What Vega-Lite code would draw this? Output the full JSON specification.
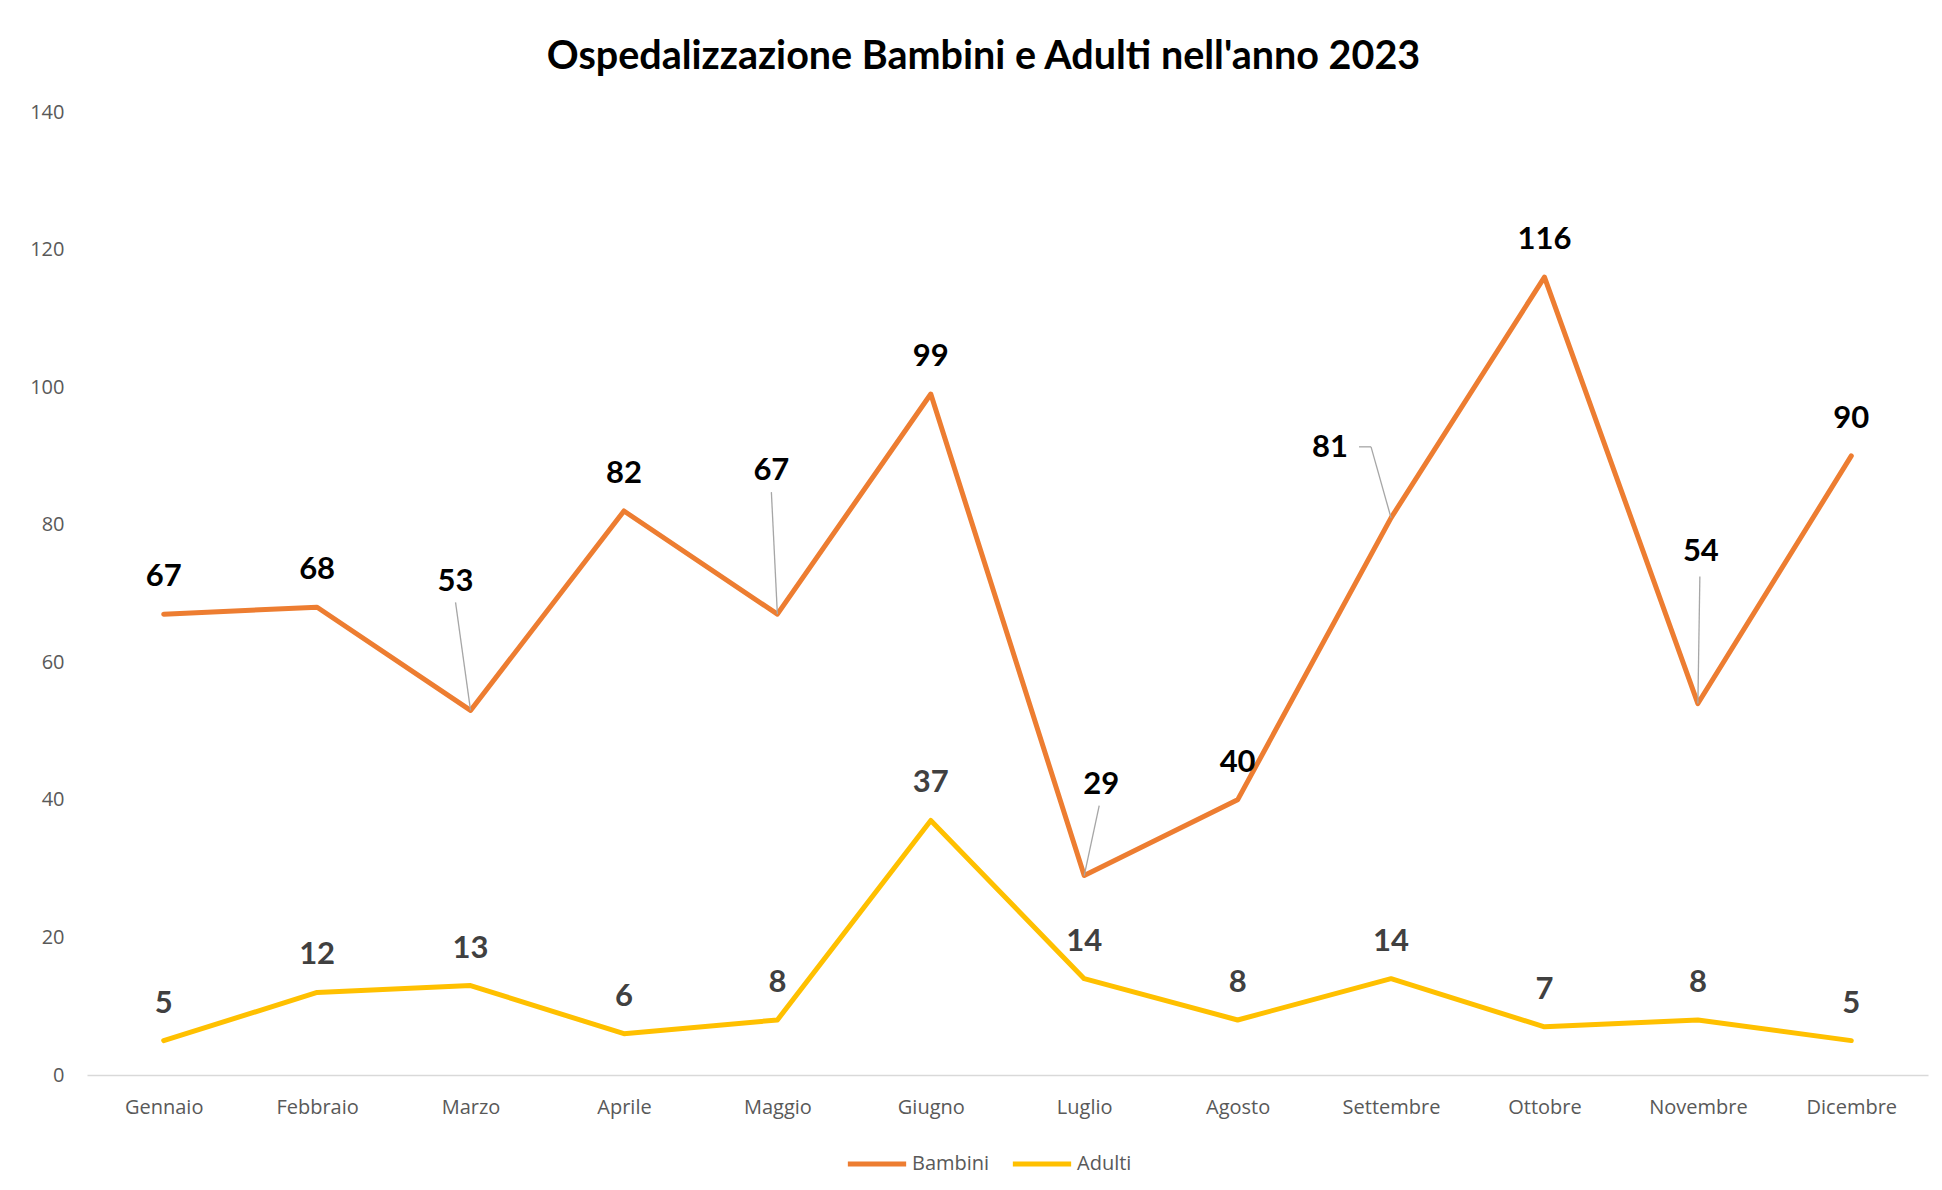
{
  "$schema": "https://vega.github.io/schema/vega-lite/v6.json",
  "autosize": {"type": "none"},
  "padding": {"left": 87, "top": 112, "right": 14, "bottom": 115},
  "width": 1841,
  "height": 963,
  "background": "white",
  "title": {
    "text": "Ospedalizzazione Bambini e Adulti nell'anno 2023",
    "font": "Lato",
    "fontSize": 39.5,
    "fontWeight": "bold",
    "color": "#000000",
    "anchor": "middle",
    "frame": "group",
    "dx": -24,
    "offset": 25
  },
  "config": {
    "view": {"stroke": null},
    "font": "Lato",
    "text": {"font": "Lato"}
  },
  "data": {
    "values": [
      {"month": "Gennaio", "serie": "Bambini", "value": 67},
      {"month": "Febbraio", "serie": "Bambini", "value": 68},
      {"month": "Marzo", "serie": "Bambini", "value": 53},
      {"month": "Aprile", "serie": "Bambini", "value": 82},
      {"month": "Maggio", "serie": "Bambini", "value": 67},
      {"month": "Giugno", "serie": "Bambini", "value": 99},
      {"month": "Luglio", "serie": "Bambini", "value": 29},
      {"month": "Agosto", "serie": "Bambini", "value": 40},
      {"month": "Settembre", "serie": "Bambini", "value": 81},
      {"month": "Ottobre", "serie": "Bambini", "value": 116},
      {"month": "Novembre", "serie": "Bambini", "value": 54},
      {"month": "Dicembre", "serie": "Bambini", "value": 90},
      {"month": "Gennaio", "serie": "Adulti", "value": 5},
      {"month": "Febbraio", "serie": "Adulti", "value": 12},
      {"month": "Marzo", "serie": "Adulti", "value": 13},
      {"month": "Aprile", "serie": "Adulti", "value": 6},
      {"month": "Maggio", "serie": "Adulti", "value": 8},
      {"month": "Giugno", "serie": "Adulti", "value": 37},
      {"month": "Luglio", "serie": "Adulti", "value": 14},
      {"month": "Agosto", "serie": "Adulti", "value": 8},
      {"month": "Settembre", "serie": "Adulti", "value": 14},
      {"month": "Ottobre", "serie": "Adulti", "value": 7},
      {"month": "Novembre", "serie": "Adulti", "value": 8},
      {"month": "Dicembre", "serie": "Adulti", "value": 5}
    ]
  },
  "encoding": {
    "x": {
      "field": "month",
      "type": "nominal",
      "sort": null,
      "scale": {"type": "point", "padding": 0.5},
      "axis": {
        "title": null,
        "labelAngle": 0,
        "labelFont": "Open Sans",
        "labelFontSize": 20,
        "labelColor": "#595959",
        "labelPadding": 22,
        "ticks": false,
        "tickSize": 0,
        "grid": false,
        "domainColor": "#D9D9D9",
        "domainWidth": 1.5
      }
    },
    "y": {
      "field": "value",
      "type": "quantitative",
      "scale": {"domain": [0, 140], "nice": false},
      "axis": {
        "title": null,
        "values": [0, 20, 40, 60, 80, 100, 120, 140],
        "labelFont": "Open Sans",
        "labelFontSize": 20,
        "labelColor": "#595959",
        "labelPadding": 23,
        "ticks": false,
        "tickSize": 0,
        "grid": false,
        "domain": false
      }
    }
  },
  "layer": [
    {
      "mark": {"type": "line", "strokeWidth": 5, "strokeCap": "round", "strokeJoin": "round"},
      "encoding": {
        "color": {
          "field": "serie",
          "type": "nominal",
          "sort": ["Bambini", "Adulti"],
          "scale": {"domain": ["Bambini", "Adulti"], "range": ["#ED7D31", "#FFC000"]},
          "legend": {
            "title": null,
            "orient": "none",
            "direction": "horizontal",
            "legendX": 758,
            "legendY": 1020,
            "symbolType": "stroke",
            "symbolSize": 3400,
            "symbolStrokeWidth": 5,
            "labelFont": "Open Sans",
            "labelFontSize": 20,
            "labelColor": "#595959",
            "labelOffset": 3,
            "columnPadding": 12
          }
        }
      }
    },
    {
      "transform": [{"filter": "datum.serie === 'Adulti'"}],
      "mark": {"type": "text", "dy": -37, "baseline": "middle", "fontSize": 31, "fontWeight": "bold", "color": "#404040", "font": "Lato"},
      "encoding": {"text": {"field": "value", "type": "quantitative"}}
    },
    {
      "transform": [{"filter": "datum.serie === 'Bambini' && indexof(['Marzo','Maggio','Luglio','Settembre','Novembre'], datum.month) < 0"}],
      "mark": {"type": "text", "dy": -37, "baseline": "middle", "fontSize": 31, "fontWeight": "bold", "color": "#000000", "font": "Lato"},
      "encoding": {"text": {"field": "value", "type": "quantitative"}}
    },
    {
      "transform": [{"filter": "datum.serie === 'Bambini' && datum.month === 'Marzo'"}],
      "layer": [
        {"mark": {"type": "text", "dx": -15, "dy": -128, "baseline": "middle", "fontSize": 31, "fontWeight": "bold", "color": "#000000", "font": "Lato"},
         "encoding": {"text": {"field": "value", "type": "quantitative"}}},
        {"mark": {"type": "rule", "color": "#A6A6A6", "strokeWidth": 1.3, "x2Offset": -15, "y2Offset": -108},
         "encoding": {"x2": {"field": "month"}, "y2": {"field": "value"}}}
      ]
    },
    {
      "transform": [{"filter": "datum.serie === 'Bambini' && datum.month === 'Maggio'"}],
      "layer": [
        {"mark": {"type": "text", "dx": -6, "dy": -143, "baseline": "middle", "fontSize": 31, "fontWeight": "bold", "color": "#000000", "font": "Lato"},
         "encoding": {"text": {"field": "value", "type": "quantitative"}}},
        {"mark": {"type": "rule", "color": "#A6A6A6", "strokeWidth": 1.3, "x2Offset": -6, "y2Offset": -122},
         "encoding": {"x2": {"field": "month"}, "y2": {"field": "value"}}}
      ]
    },
    {
      "transform": [{"filter": "datum.serie === 'Bambini' && datum.month === 'Luglio'"}],
      "layer": [
        {"mark": {"type": "text", "dx": 17, "dy": -91, "baseline": "middle", "fontSize": 31, "fontWeight": "bold", "color": "#000000", "font": "Lato"},
         "encoding": {"text": {"field": "value", "type": "quantitative"}}},
        {"mark": {"type": "rule", "color": "#A6A6A6", "strokeWidth": 1.3, "x2Offset": 15, "y2Offset": -70},
         "encoding": {"x2": {"field": "month"}, "y2": {"field": "value"}}}
      ]
    },
    {
      "transform": [{"filter": "datum.serie === 'Bambini' && datum.month === 'Settembre'"}],
      "layer": [
        {"mark": {"type": "text", "dx": -61, "dy": -70, "baseline": "middle", "fontSize": 31, "fontWeight": "bold", "color": "#000000", "font": "Lato"},
         "encoding": {"text": {"field": "value", "type": "quantitative"}}},
        {"mark": {"type": "rule", "color": "#A6A6A6", "strokeWidth": 1.3, "x2Offset": -20, "y2Offset": -71},
         "encoding": {"x2": {"field": "month"}, "y2": {"field": "value"}}},
        {"mark": {"type": "rule", "color": "#A6A6A6", "strokeWidth": 1.3, "xOffset": -32, "x2Offset": -20, "yOffset": -71, "y2Offset": -71},
         "encoding": {"x2": {"field": "month"}, "y2": {"field": "value"}}}
      ]
    },
    {
      "transform": [{"filter": "datum.serie === 'Bambini' && datum.month === 'Novembre'"}],
      "layer": [
        {"mark": {"type": "text", "dx": 3, "dy": -152, "baseline": "middle", "fontSize": 31, "fontWeight": "bold", "color": "#000000", "font": "Lato"},
         "encoding": {"text": {"field": "value", "type": "quantitative"}}},
        {"mark": {"type": "rule", "color": "#A6A6A6", "strokeWidth": 1.3, "x2Offset": 2, "y2Offset": -127},
         "encoding": {"x2": {"field": "month"}, "y2": {"field": "value"}}}
      ]
    }
  ]
}
